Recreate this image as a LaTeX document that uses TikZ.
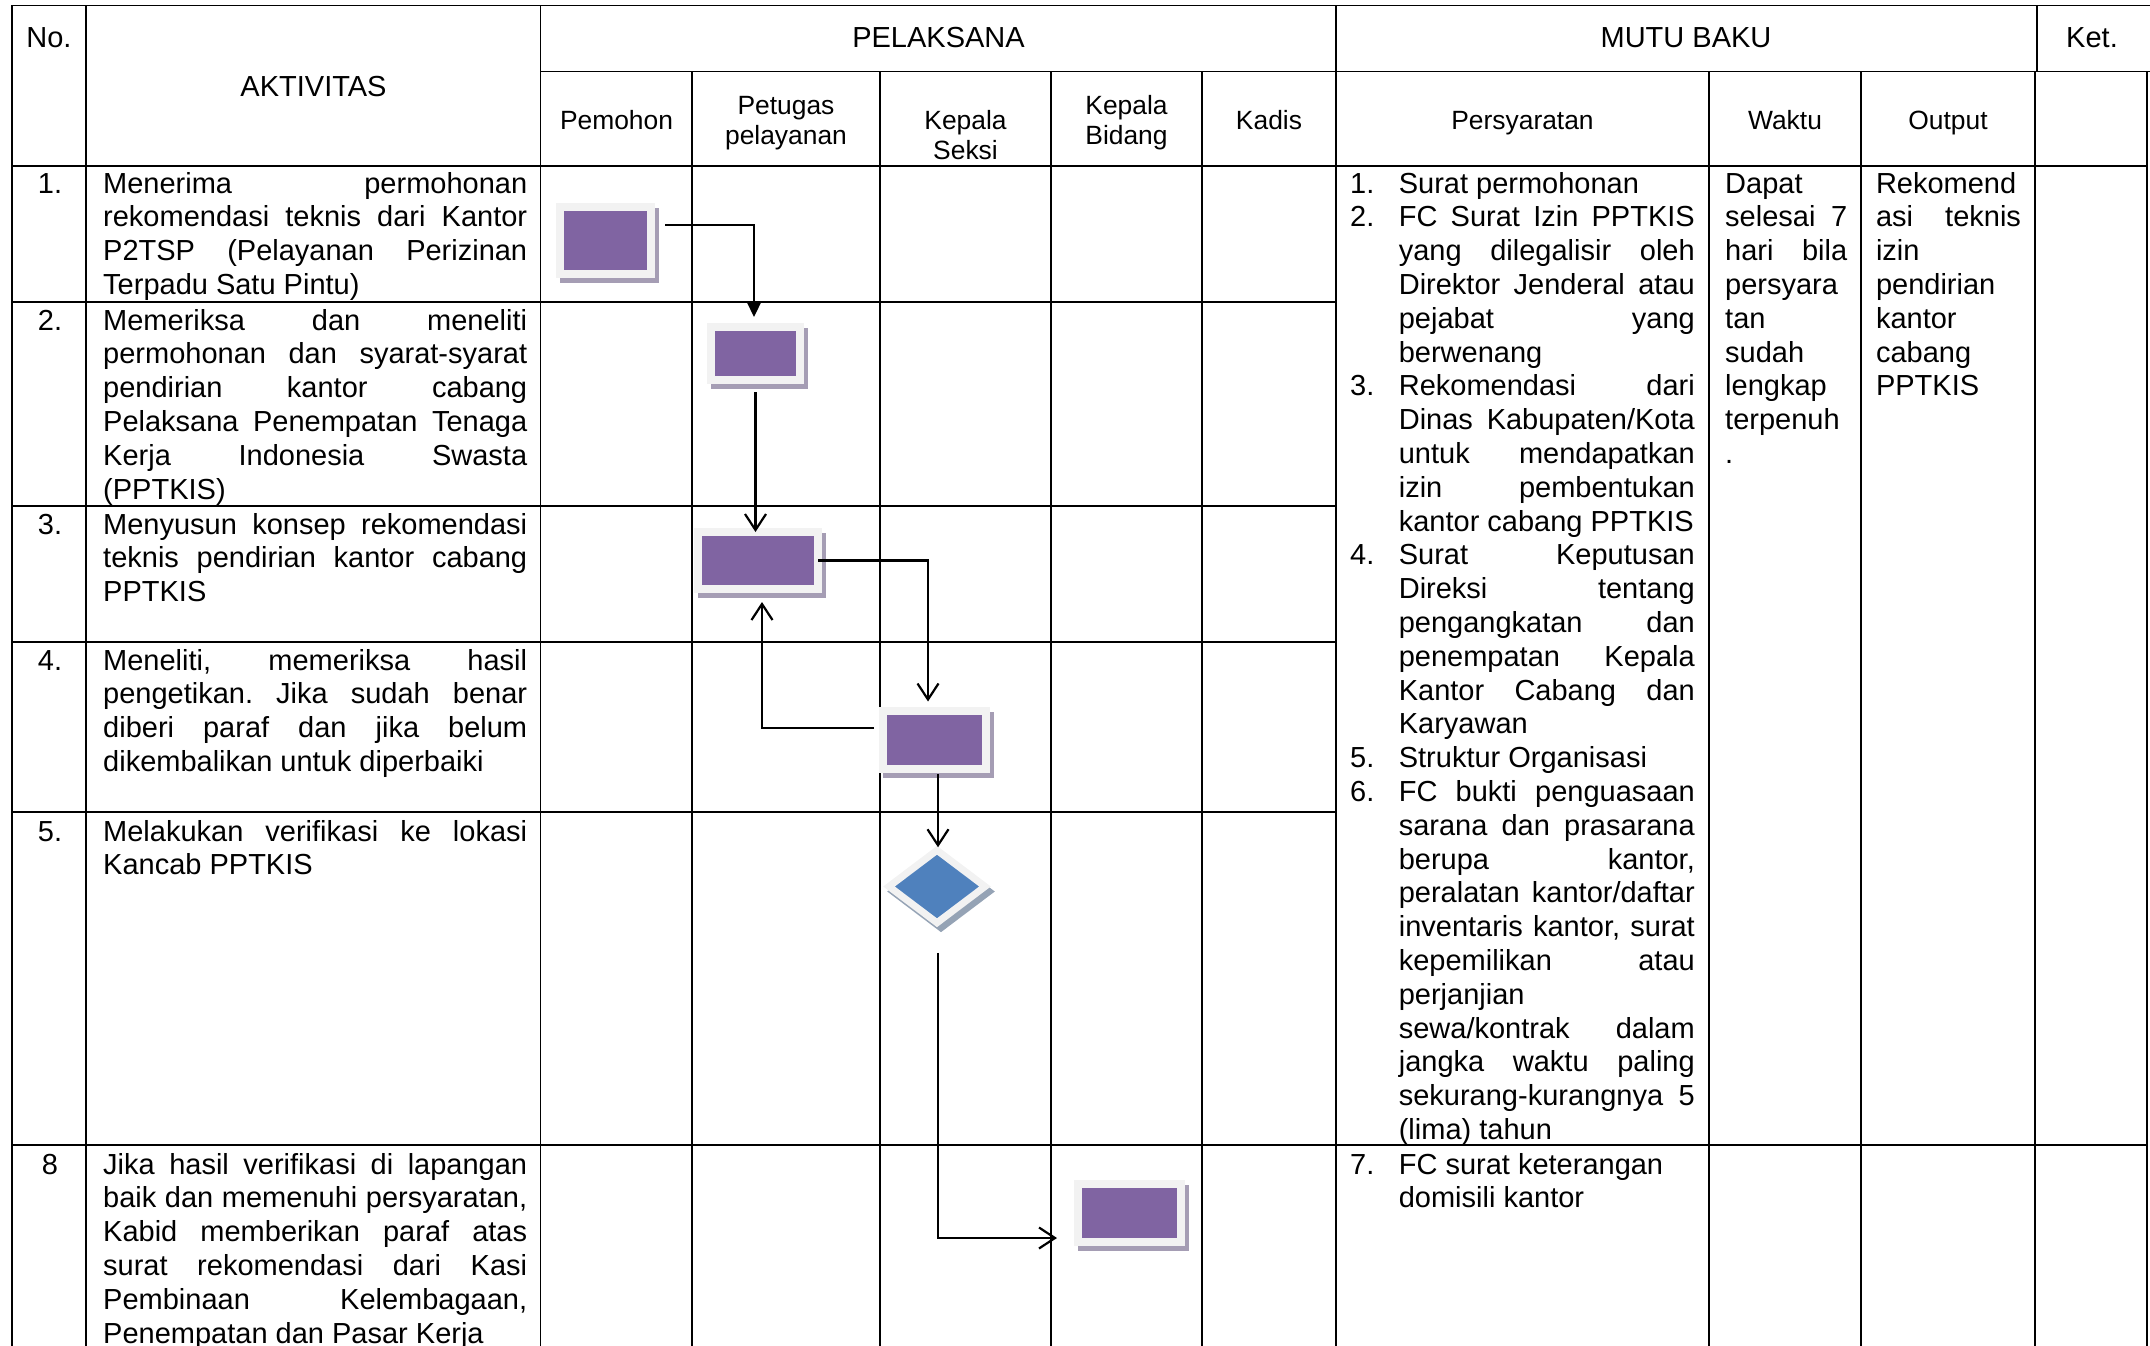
\documentclass[tikz,border=0pt]{standalone}
\usepackage{fontspec}
\setmainfont{Liberation Sans}
\usepackage{tikz}
\usetikzlibrary{shapes.geometric,shadows,arrows.meta}
\definecolor{boxpurple}{HTML}{8064A2}
\definecolor{framegray}{HTML}{F2F2F2}
\definecolor{shadepurple}{HTML}{A59DB4}
\definecolor{decblue}{HTML}{4F81BD}
\definecolor{shadeblue}{HTML}{95A3B5}
\hyphenpenalty=10000
\exhyphenpenalty=10000
\tolerance=10000
\frenchspacing

\begin{document}
\begin{tikzpicture}[x=1pt, y=-1pt,
  grid/.style={line width=1.4pt, line cap=rect},
  head/.style={inner sep=0pt, anchor=base, font=\fontsize{29}{33.8}\selectfont},
  subhead/.style={inner sep=0pt, anchor=base, align=center, text width=150pt, font=\fontsize{26.4}{30}\selectfont},
  num/.style={inner sep=0pt, anchor=base, font=\fontsize{29}{33.8}\selectfont},
  cell/.style={inner sep=0pt, anchor=base west, align=justify, font=\fontsize{29}{33.8}\selectfont},
  task/.style={rectangle, inner sep=0pt, outer sep=0pt, fill=boxpurple, draw=framegray, line width=8pt, drop shadow={shadow xshift=4pt, shadow yshift=-5pt, fill=shadepurple, draw=shadepurple, line width=8pt, opacity=1}},
  decide/.style={diamond, inner sep=0pt, outer sep=0pt, fill=decblue, draw=framegray, line width=7pt, drop shadow={shadow xshift=4pt, shadow yshift=-5pt, fill=shadeblue, draw=shadeblue, line width=7pt, opacity=1}},
  flow/.style={line width=2.2pt, -{Straight Barb[length=16pt, width=21pt, line width=2.2pt]}},
  firstflow/.style={line width=2.2pt, -{Triangle[length=16pt, width=15pt]}}
]
\useasboundingbox (0,0) rectangle (2150,1346);

% table grid
\draw[grid] (12,5.5) -- (2150,5.5);
\draw[grid] (540.5,71.5) -- (2150,71.5);
\draw[grid] (12,166) -- (2147,166);
\draw[grid] (12,302) -- (1336,302);
\draw[grid] (12,506) -- (1336,506);
\draw[grid] (12,642) -- (1336,642);
\draw[grid] (12,812) -- (1336,812);
\draw[grid] (12,1145) -- (2147,1145);
\draw[grid] (12,5.5) -- (12,1346);
\draw[grid] (86,5.5) -- (86,1346);
\draw[grid] (540.5,5.5) -- (540.5,1346);
\draw[grid] (692,71.5) -- (692,1346);
\draw[grid] (880,71.5) -- (880,1346);
\draw[grid] (1051,71.5) -- (1051,1346);
\draw[grid] (1202,71.5) -- (1202,1346);
\draw[grid] (1336,5.5) -- (1336,1346);
\draw[grid] (1709,71.5) -- (1709,1346);
\draw[grid] (1861,71.5) -- (1861,1346);
\draw[grid] (2037,5.5) -- (2037,71.5);
\draw[grid] (2035,71.5) -- (2035,1346);
\draw[grid] (2147,71.5) -- (2147,1346);

% header
\node[head] (hno) at (49,48) {No.};
\node[head] (hakt) at (313.5,96) {AKTIVITAS};
\node[head] (hpel) at (938.5,48) {PELAKSANA};
\node[head] (hmutu) at (1686,48) {MUTU BAKU};
\node[head] (hket) at (2092,48) {Ket.};
\node[subhead] (hpem) at (616.5,129) {Pemohon};
\node[subhead] (hpet) at (786,114) {Petugas\\pelayanan};
\node[subhead] (hkasi) at (965.5,129) {Kepala\\Seksi};
\node[subhead] (hkabid) at (1126.5,114) {Kepala\\Bidang};
\node[subhead] (hkadis) at (1269,129) {Kadis};
\node[subhead] (hsyarat) at (1522.5,129) {Persyaratan};
\node[subhead] (hwaktu) at (1785,129) {Waktu};
\node[subhead] (houtput) at (1948,129) {Output};

% activities
\node[num] (n1) at (50,193) {1.};
\node[num] (n2) at (50,330) {2.};
\node[num] (n3) at (50,534) {3.};
\node[num] (n4) at (50,670) {4.};
\node[num] (n5) at (50,841) {5.};
\node[num] (n8) at (50,1174) {8};
\node[cell, text width=424pt] (akt1) at (103,193) {Menerima permohonan\linebreak rekomendasi teknis dari Kantor\linebreak P2TSP (Pelayanan Perizinan\linebreak Terpadu Satu Pintu)};
\node[cell, text width=424pt] (akt2) at (103,330) {Memeriksa dan meneliti\linebreak permohonan dan syarat-syarat\linebreak pendirian kantor cabang\linebreak Pelaksana Penempatan Tenaga\linebreak Kerja Indonesia Swasta\linebreak (PPTKIS)};
\node[cell, text width=424pt] (akt3) at (103,534) {Menyusun konsep rekomendasi\linebreak teknis pendirian kantor cabang\linebreak PPTKIS};
\node[cell, text width=424pt] (akt4) at (103,670) {Meneliti, memeriksa hasil\linebreak pengetikan. Jika sudah benar\linebreak diberi paraf dan jika belum\linebreak dikembalikan untuk diperbaiki};
\node[cell, text width=424pt] (akt5) at (103,841) {Melakukan verifikasi ke lokasi\linebreak Kancab PPTKIS};
\node[cell, text width=424pt] (akt8) at (103,1174) {Jika hasil verifikasi di lapangan\linebreak baik dan memenuhi persyaratan,\linebreak Kabid memberikan paraf atas\linebreak surat rekomendasi dari Kasi\linebreak Pembinaan Kelembagaan,\linebreak Penempatan dan Pasar Kerja};

% requirements
\node[cell] (s1n) at (1350,193) {1.};
\node[cell] (s2n) at (1350,226.8) {2.};
\node[cell] (s3n) at (1350,395.8) {3.};
\node[cell] (s4n) at (1350,564.8) {4.};
\node[cell] (s5n) at (1350,767.6) {5.};
\node[cell] (s6n) at (1350,801.4) {6.};
\node[cell] (s7n) at (1350,1174) {7.};
\node[cell, text width=296pt] (s1) at (1398.6,193) {Surat permohonan};
\node[cell, text width=296pt] (s2) at (1398.6,226.8) {FC Surat Izin PPTKIS\linebreak yang dilegalisir oleh\linebreak Direktor Jenderal atau\linebreak pejabat yang\linebreak berwenang};
\node[cell, text width=296pt] (s3) at (1398.6,395.8) {Rekomendasi dari\linebreak Dinas Kabupaten/Kota\linebreak untuk mendapatkan\linebreak izin pembentukan\linebreak kantor cabang PPTKIS};
\node[cell, text width=296pt] (s4) at (1398.6,564.8) {Surat Keputusan\linebreak Direksi tentang\linebreak pengangkatan dan\linebreak penempatan Kepala\linebreak Kantor Cabang dan\linebreak Karyawan};
\node[cell, text width=296pt] (s5) at (1398.6,767.6) {Struktur Organisasi};
\node[cell, text width=296pt] (s6) at (1398.6,801.4) {FC bukti penguasaan\linebreak sarana dan prasarana\linebreak berupa kantor,\linebreak peralatan kantor/daftar\linebreak inventaris kantor, surat\linebreak kepemilikan atau\linebreak perjanjian\linebreak sewa/kontrak dalam\linebreak jangka waktu paling\linebreak sekurang-kurangnya 5\linebreak (lima) tahun};
\node[cell, text width=296pt] (s7) at (1398.6,1174) {FC surat keterangan\newline domisili kantor};
\node[cell, text width=122pt] (waktu) at (1725,193) {Dapat\linebreak selesai 7\linebreak hari bila\linebreak persyara\linebreak tan\linebreak sudah\linebreak lengkap\linebreak terpenuh\linebreak .};
\node[cell, text width=145pt] (output) at (1875.8,193) {Rekomend\linebreak asi teknis\linebreak izin\linebreak pendirian\linebreak kantor\linebreak cabang\linebreak PPTKIS};

% flow symbols
\node[task, minimum width=91.5pt, minimum height=67.4pt] (b1) at (605.25,240.3) {};
\node[task, minimum width=89pt, minimum height=53pt] (b2) at (755.5,353.5) {};
\node[task, minimum width=120pt, minimum height=57pt] (b3) at (758,560.5) {};
\node[task, minimum width=103pt, minimum height=58pt] (b4) at (934.5,740) {};
\node[decide, minimum width=96pt, minimum height=72.5pt] (dec) at (937,886.5) {};
\node[task, minimum width=103pt, minimum height=58pt] (b5) at (1129.5,1213) {};

% connectors
\draw[firstflow] ([xshift=14pt,yshift=15pt]b1.east) -| ([xshift=-1.5pt,yshift=10pt]b2.north);
\draw[flow] ([yshift=-12pt]b2.south) -- (b2.south |- b3.north);
\draw[flow] (b3.east) -| ([xshift=-6.5pt,yshift=9.5pt]b4.north);
\draw[flow] ([xshift=-9pt,yshift=12pt]b4.west) -| ([xshift=4pt,yshift=-13pt]b3.south);
\draw[flow] ([xshift=3.5pt,yshift=-5pt]b4.south) -- ([xshift=1pt,yshift=3pt]dec.north);
\draw[flow] ([xshift=1pt,yshift=-30pt]dec.south) |- ([xshift=-21pt,yshift=-25pt]b5.west);
\end{tikzpicture}
\end{document}
